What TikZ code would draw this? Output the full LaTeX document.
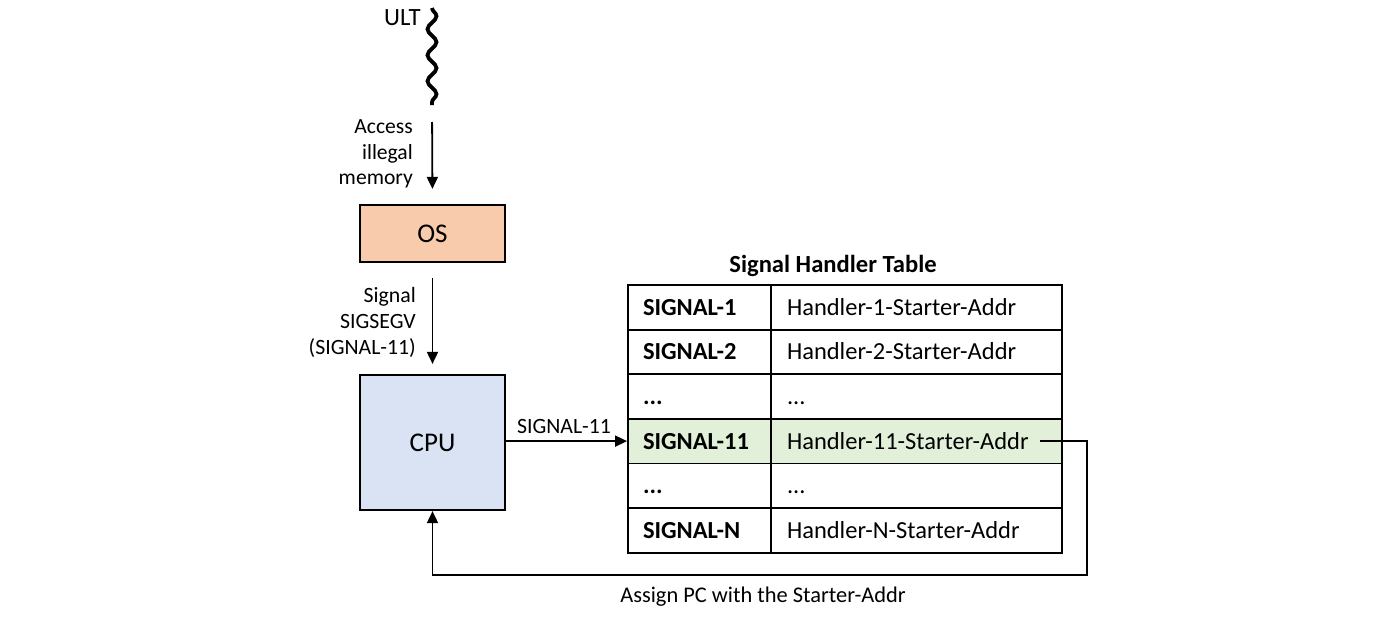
\documentclass[tikz,border=0pt]{standalone}
\usepackage{fontspec}
\setmainfont{Carlito}
\usetikzlibrary{arrows.meta,decorations.pathmorphing}
\definecolor{osfill}{HTML}{F8CBAD}
\definecolor{cpufill}{HTML}{DAE3F3}
\definecolor{hlfill}{HTML}{E2F0D9}
\newcommand\mydots{...}
\tikzset{
  box/.style={draw, line width=2.2pt, inner sep=0pt, font=\fontsize{27}{32}\selectfont},
  arr/.style={line width=1.8pt, -{Triangle[length=12pt,width=11pt]}},
  lbl/.style={font=\fontsize{21.8}{26}\selectfont, inner sep=0pt},
  lcell/.style={draw, line width=1.8pt, minimum height=44.6pt, text width=113pt, text height=19pt, text depth=3pt, inner xsep=15pt, inner ysep=0pt, align=left, font=\fontsize{24.5}{28}\selectfont\bfseries},
  rcell/.style={draw, line width=1.8pt, minimum height=44.6pt, text width=259pt, text height=19pt, text depth=3pt, inner xsep=16pt, inner ysep=0pt, align=left, font=\fontsize{24.5}{28}\selectfont},
}
\begin{document}
\begin{tikzpicture}[x=1pt,y=-1pt]
\useasboundingbox (0,0) rectangle (1400,616);
% ULT
\node[lbl, font=\fontsize{24.8}{28}\selectfont, anchor=east] (ult) at (421,18) {ULT};
\coordinate (wt) at (432,8);
\coordinate (wb) at (432,105);
\draw[line width=3.8pt, decorate, decoration={snake, segment length=26pt, amplitude=4.5pt}] (wt) -- (wb);
% OS and CPU
\node[box, fill=osfill, minimum width=145pt, minimum height=57pt] (os) at (432.5,233.5) {OS};
\node[box, fill=cpufill, minimum width=145pt, minimum height=135pt] (cpu) at (432.5,442.5) {CPU};
\draw[arr, shorten <=17pt, shorten >=15pt] (wb) -- (os.north);
\node[lbl, anchor=east, align=right, font=\fontsize{21.6}{25.5}\selectfont] (l1) at (413,154) {Access\\illegal\\memory};
\draw[arr, shorten <=15pt, shorten >=10pt] (os.south) -- (cpu.north);
\node[lbl, anchor=east, align=right] (l2) at (416,322) {Signal\\SIGSEGV\\(SIGNAL-11)};
% table
\node[font=\fontsize{24.6}{28}\selectfont\bfseries, inner sep=0pt] (title) at (833,266) {Signal Handler Table};
\foreach \a/\b [count=\k] in {SIGNAL-1/Handler-1-Starter-Addr, SIGNAL-2/Handler-2-Starter-Addr, \mydots/\mydots, SIGNAL-11/Handler-11-Starter-Addr, \mydots/\mydots, SIGNAL-N/Handler-N-Starter-Addr}{
  \pgfmathsetmacro{\yy}{285+44.6*(\k-0.5)}
  \ifnum\k=4
    \node[lcell, fill=hlfill] (l\k) at (699.5,\yy) {\a};
    \node[rcell, fill=hlfill] (r\k) at (916.5,\yy) {\b};
  \else
    \node[lcell] (l\k) at (699.5,\yy) {\a};
    \node[rcell] (r\k) at (916.5,\yy) {\b};
  \fi
}
\draw[arr] (cpu.east |- l4.west) -- (l4.west);
\node[lbl, anchor=south] (l3) at (564,434) {SIGNAL-11};
% return path
\coordinate (x1040) at (1040,0);
\coordinate (ret) at (r4.center -| x1040);
\coordinate (rc) at (1087,575);
\draw[arr] (ret) -| (rc) -| (cpu.south);
\node[lbl, font=\fontsize{22.4}{26}\selectfont] (l4lbl) at (763,597) {Assign PC with the Starter-Addr};
\end{tikzpicture}
\end{document}
